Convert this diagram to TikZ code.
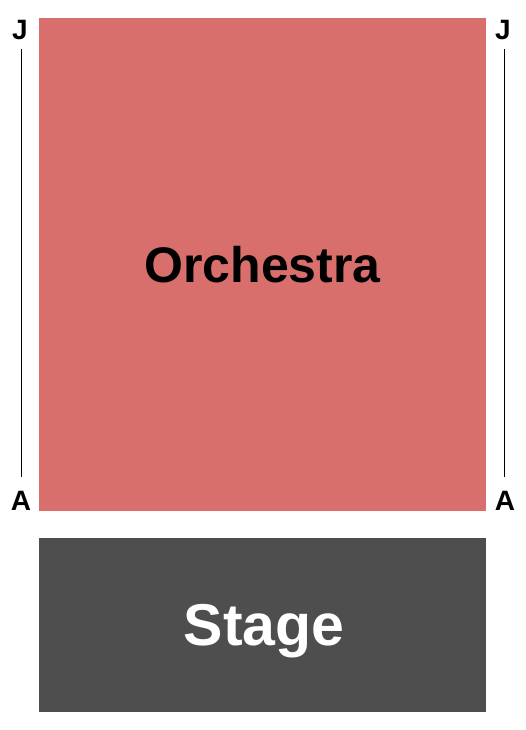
\documentclass[tikz,border=0pt]{standalone}
\usepackage{fontspec}
\setmainfont{Liberation Sans}
\definecolor{orch}{RGB}{216,111,109}
\definecolor{stagec}{RGB}{78,78,78}
\begin{document}
\begin{tikzpicture}[x=1pt,y=-1pt,
  section/.style={draw=none,inner sep=0pt},
  rowlbl/.style={font=\fontsize{28}{28}\selectfont\bfseries,inner sep=0pt,anchor=base},
  rowline/.style={line width=1.5pt,black}]
\useasboundingbox (0,0) rectangle (525,730);
\fill[orch] (39,18) rectangle (486,511);
\fill[stagec] (39,538) rectangle (486,712);
\node[font=\fontsize{50}{50}\selectfont\bfseries,inner sep=0pt,anchor=base] (orchtxt) at (262.5,282) {Orchestra};
\node[font=\fontsize{59}{59}\selectfont\bfseries,text=white,inner sep=0pt,anchor=base] (stagetxt) at (264,645) {Stage};
\node[rowlbl] (jl) at (20,40) {J};
\node[rowlbl] (al) at (21,510) {A};
\node[rowlbl] (jr) at (503,40) {J};
\node[rowlbl] (ar) at (505,510) {A};
\coordinate (lt) at (21.5,49);
\coordinate (lb) at (21.5,477);
\coordinate (rt) at (504.5,49);
\coordinate (rb) at (504.5,477);
\draw[rowline] (lt) -- (lb);
\draw[rowline] (rt) -- (rb);
\end{tikzpicture}
\end{document}
